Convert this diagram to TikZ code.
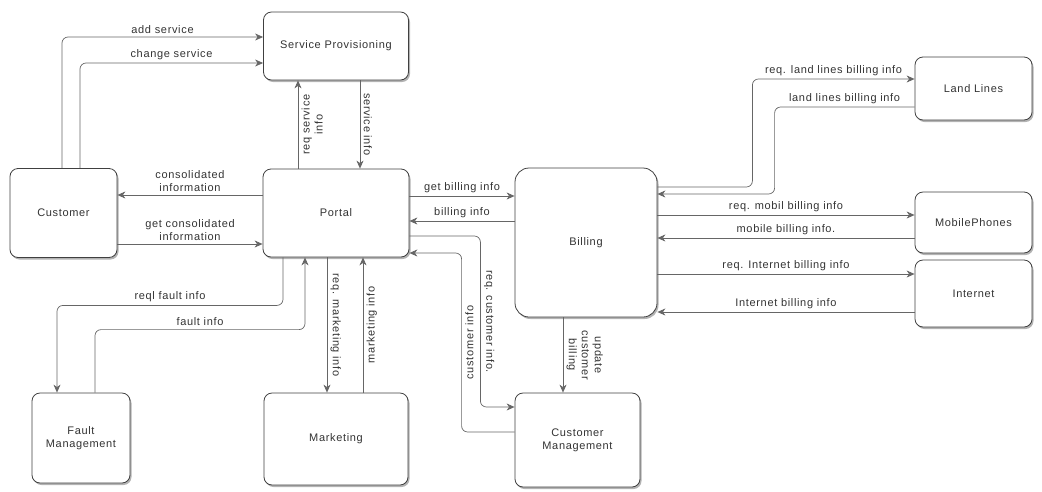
\documentclass[tikz,border=0pt]{standalone}
\usepackage{fontspec}
\setmainfont{Liberation Sans}[LetterSpace=6]
\usetikzlibrary{arrows.meta,shadows}
\begin{document}
\begin{tikzpicture}[x=1pt,y=-1pt]
 \tikzset{directed/.style={-{Stealth[length=8pt,width=7pt,inset=2.5pt]}, line width=0.7pt, draw=black!60, rounded corners=6pt}}
 \tikzset{block/.style={draw=black!75, line width=0.8pt, fill=white, rounded corners=8pt, inner sep=0pt,
   drop shadow={shadow xshift=1.5pt, shadow yshift=-2pt, fill=black!50, opacity=0.6}}}
 \tikzset{every node/.style={font=\fontsize{11}{13}\selectfont, text=black!80, align=center}}
  \useasboundingbox (0,0) rectangle (1042,491);
  \node[block, minimum width=145pt, minimum height=68pt] (SP) at (336,46) {Service Provisioning};
  \node[block, minimum width=107pt, minimum height=89pt] (Customer) at (63.5,213) {Customer};
  \node[block, minimum width=146pt, minimum height=88pt] (Portal) at (336,213) {Portal};
  \node[block, minimum width=98pt, minimum height=90pt] (Fault) at (81,438) {Fault\\Management};
  \node[block, minimum width=144pt, minimum height=92pt] (Marketing) at (336,439) {Marketing};
  \node[block, rounded corners=14pt, minimum width=142pt, minimum height=149pt] (Billing) at (586,242.5) {Billing};
  \node[block, minimum width=125pt, minimum height=94pt] (CM) at (577.5,440) {Customer\\Management};
  \node[block, minimum width=117pt, minimum height=63pt] (LandLines) at (973.5,88.5) {Land Lines};
  \node[block, minimum width=117pt, minimum height=61pt] (MobilePhones) at (973.5,222.5) {MobilePhones};
  \node[block, minimum width=117pt, minimum height=67pt] (Internet) at (973.5,293.5) {Internet};
  % customer and service provisioning
  \draw[directed] ([xshift=-1.5pt]Customer.north) |- node[pos=0.75, above] {add service} ([yshift=9pt]SP.west);
  \draw[directed] ([xshift=16.5pt]Customer.north) |- node[pos=0.75, above] {change service} ([yshift=-17pt]SP.west);
  \draw[directed] ([xshift=-38pt]Portal.north) -- node[anchor=north, rotate=90] {req service\\info} ([xshift=-38pt]SP.south);
  \draw[directed] ([xshift=24pt]SP.south) -- node[anchor=south, rotate=-90] {service info} ([xshift=24pt]Portal.north);
  \draw[directed] ([yshift=18pt]Portal.west) -- node[above] {consolidated\\information} ([yshift=18pt]Customer.east);
  \draw[directed] ([yshift=-31pt]Customer.east) -- node[above] {get consolidated\\information} ([yshift=-31pt]Portal.west);
  % fault and marketing
  \draw[directed] ([xshift=-53pt]Portal.south) -- ++(0,48) -| node[pos=0.25, above] {reql fault info} ([xshift=-24pt]Fault.north);
  \draw[directed] ([xshift=14pt]Fault.north) -- ++(0,-63) -| node[pos=0.25, above] {fault info} ([xshift=-31pt]Portal.south);
  \draw[directed] ([xshift=-9pt]Portal.south) -- node[anchor=south, rotate=-90] {req. marketing info} ([xshift=-9pt]Marketing.north);
  \draw[directed] ([xshift=27pt]Marketing.north) -- node[anchor=north, rotate=90] {marketing info} ([xshift=27pt]Portal.south);
  % billing and customer management
  \draw[directed] ([yshift=17pt]Portal.east) -- node[above] {get billing info} ([yshift=46.5pt]Billing.west);
  \draw[directed] ([yshift=21.5pt]Billing.west) -- node[above] {billing info} ([yshift=-8pt]Portal.east);
  \draw[directed] ([yshift=-23pt]Portal.east) -- ++(71,0) |- node[pos=0.25, anchor=south, rotate=-90] {req. customer info.} ([yshift=33pt]CM.west);
  \draw[directed] ([yshift=8pt]CM.west) -- ++(-53,0) |- node[pos=0.25, anchor=north, rotate=90] {customer info} ([yshift=-40pt]Portal.east);
  \draw[directed] ([xshift=-23pt]Billing.south) -- node[anchor=south, rotate=-90] {update\\customer\\billing} ([xshift=-14.5pt]CM.north);
  % providers
  \draw[directed] ([yshift=55.5pt]Billing.east) -- ++(95,0) |- node[pos=0.75, above] {req. land lines billing info} ([yshift=9.5pt]LandLines.west);
  \draw[directed] ([yshift=-18.5pt]LandLines.west) -- node[above] {land lines billing info} ++(-140,0) |- ([yshift=48.5pt]Billing.east);
  \draw[directed] ([yshift=27.5pt]Billing.east) -- node[above] {req. mobil billing info} ([yshift=7.5pt]MobilePhones.west);
  \draw[directed] ([yshift=-15.5pt]MobilePhones.west) -- node[above] {mobile billing info.} ([yshift=4.5pt]Billing.east);
  \draw[directed] ([yshift=-31.5pt]Billing.east) -- node[above] {req. Internet billing info} ([yshift=19.5pt]Internet.west);
  \draw[directed] ([yshift=-18.5pt]Internet.west) -- node[above] {Internet billing info} ([yshift=-69.5pt]Billing.east);
\end{tikzpicture}
\end{document}
